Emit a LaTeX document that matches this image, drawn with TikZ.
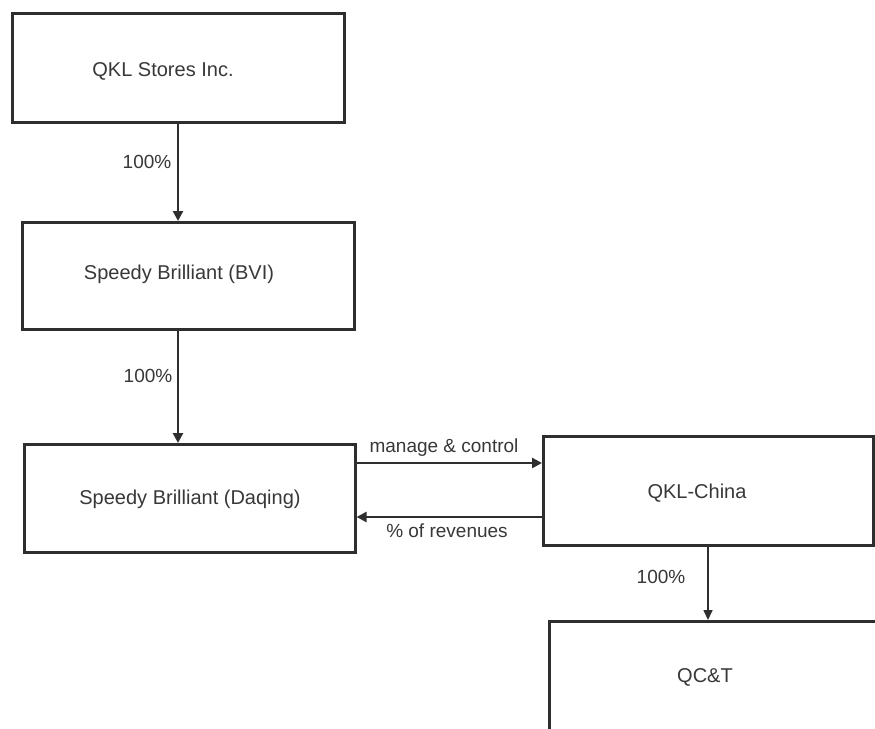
\documentclass[tikz,border=0pt]{standalone}
\usepackage{fontspec}
\setmainfont{Liberation Sans}
\usetikzlibrary{arrows.meta,calc}
\definecolor{ink}{HTML}{2E2E2E}
\definecolor{txtc}{HTML}{383838}
\tikzset{
  box/.style={draw=ink, line width=2.6pt, rectangle, inner sep=0pt, anchor=north west},
  lbl/.style={text=txtc, font=\fontsize{19}{22}\selectfont, inner sep=0pt},
  btxt/.style={text=txtc, font=\fontsize{20}{24}\selectfont, inner sep=0pt},
  conn/.style={draw=ink, line width=2.6pt, -{Triangle[length=10pt,width=10pt]}},
  connthin/.style={draw=ink, line width=1.6pt, -{Triangle[length=10pt,width=9pt]}}
}
\begin{document}
\begin{tikzpicture}[x=1pt,y=-1pt]
\useasboundingbox (0,0) rectangle (875,728);
\clip (0,0) rectangle (875,728);
\fill[white] (0,0) rectangle (875,728);
% boxes
\node[box, minimum width=332pt, minimum height=109pt] (b1) at (11,12) {};
\node[box, minimum width=332pt, minimum height=107pt] (b2) at (21,221) {};
\node[box, minimum width=331pt, minimum height=108pt] (b3) at (23,443) {};
\node[box, minimum width=330pt, minimum height=109pt] (b4) at (542,435) {};
\node[box, minimum width=340pt, minimum height=120pt] (b5) at (548,620) {};
% box texts
\node[btxt] (t1) at (163,71) {QKL Stores Inc.};
\node[btxt] (t2) at (179,274) {Speedy Brilliant (BVI)};
\node[btxt] (t3) at (190,499) {Speedy Brilliant (Daqing)};
\node[btxt] (t4) at (697,493) {QKL-China};
\node[btxt] (t5) at (705,677) {QC\&T};
% helper coordinates
\coordinate (ax) at (178,0);
\coordinate (my1) at (0,463);
\coordinate (my2) at (0,517);
\coordinate (cx) at (708,0);
% connectors
\draw[conn] (b1.south -| ax) -- (b2.north -| ax);
\draw[conn] (b2.south -| ax) -- (b3.north -| ax);
\draw[conn] (b3.east |- my1) -- (b4.west |- my1);
\draw[conn] (b4.west |- my2) -- (b3.east |- my2);
\draw[connthin] (b4.south -| cx) -- (b5.north -| cx);
% connector labels
\node[lbl] (l1) at (147,162) {100\%};
\node[lbl] (l2) at (148,376) {100\%};
\node[lbl] (l3) at (444,448) {manage \& control};
\node[lbl] (l4) at (447,531) {\% of revenues};
\node[lbl] (l5) at (661,577) {100\%};
\end{tikzpicture}
\end{document}
